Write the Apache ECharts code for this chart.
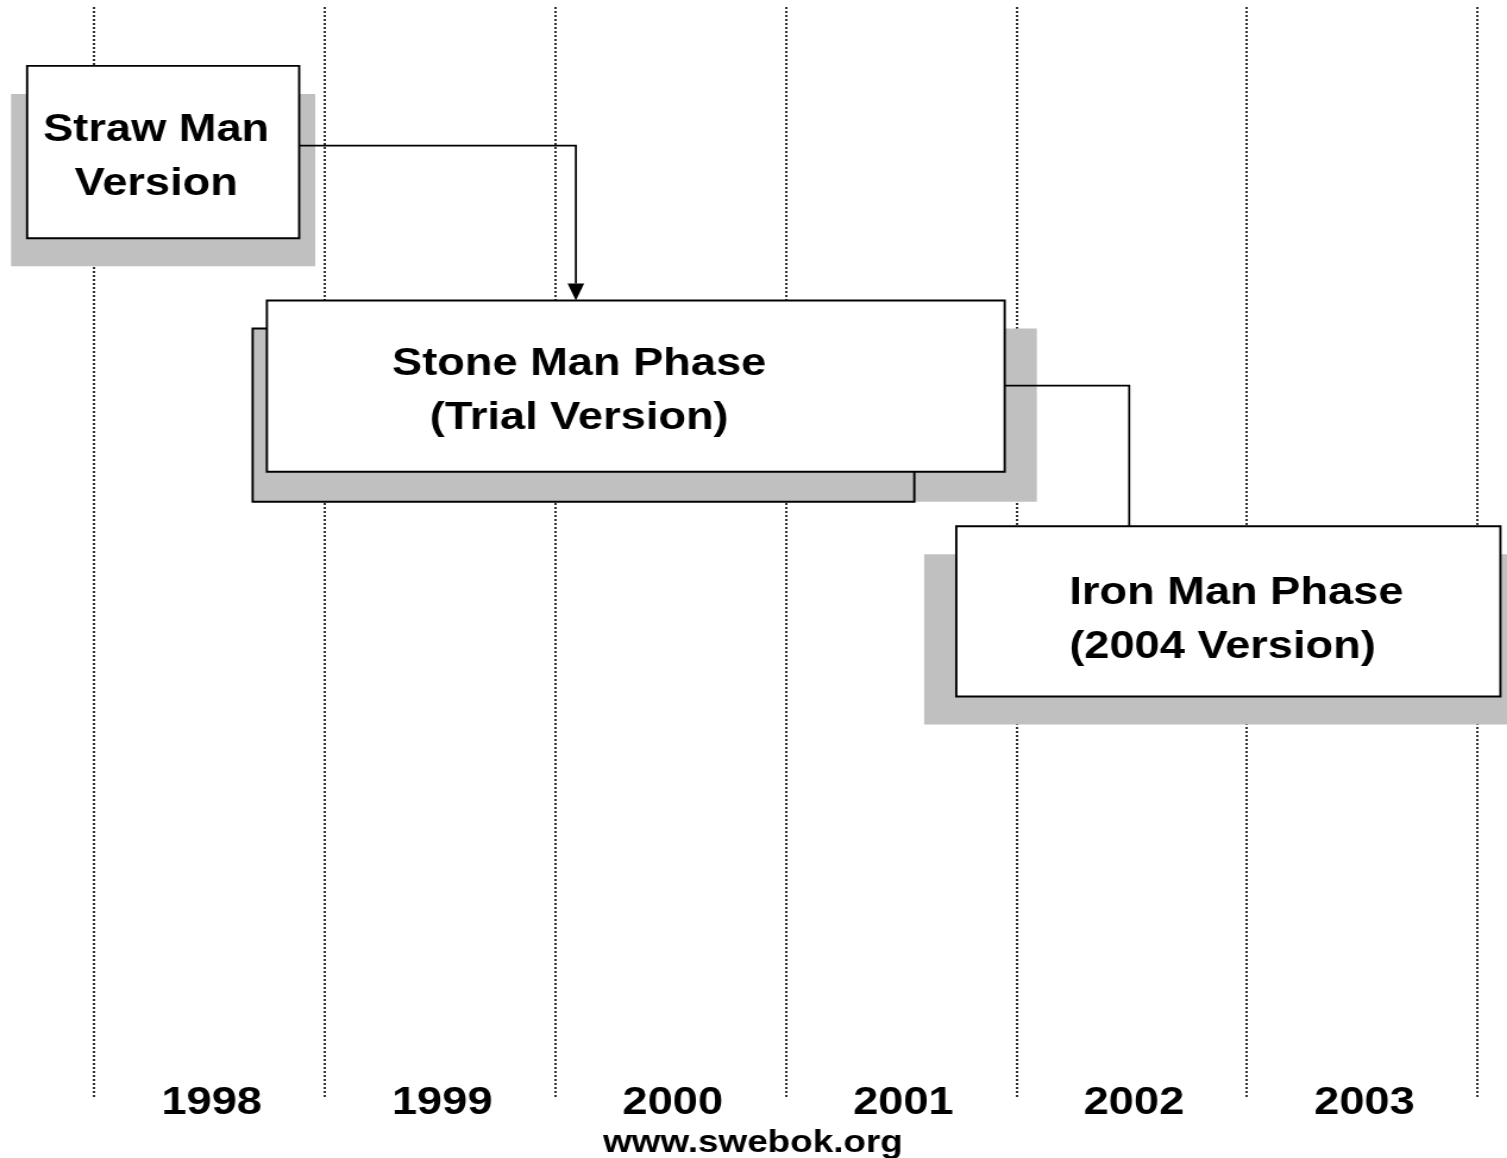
<!DOCTYPE html>
<html>
<head>
<meta charset="utf-8">
<title>SWEBOK timeline</title>
<script src="https://cdn.jsdelivr.net/npm/echarts@6/dist/echarts.min.js"></script>
<style>
  html, body { margin: 0; padding: 0; background: #fff; overflow: hidden; }
  /* the source picture is stretched ~1.19x sideways, so draw narrower and widen it */
  #timeline { width: 1267px; height: 1158px; transform: scaleX(1.1895); transform-origin: 0 0; }
</style>
</head>
<body>
<div id="timeline"></div>
<script>
var years = ['1998', '1999', '2000', '2001', '2002', '2003'];

// phases: start/end in years, top/bottom on a 0..100 scale (0 = top)
var phaseNames = ['Straw Man\nVersion', 'Stone Man Phase\n(Trial Version)', 'Iron Man Phase\n(2004 Version)'];
var phaseStart = [1997.71, 1998.75, 2001.74];
var phaseEnd = [1998.89, 2001.95, 2004.10];
var phaseTop = [5.4, 26.9, 47.6];
var phaseBottom = [21.2, 42.6, 63.2];

// elbow links between phases
var linkFrom = [0, 1];
var linkTo = [1, 2];
var linkX = [2000.09, 2002.49];
var linkY = [12.7, 34.7];
var linkArrow = [true, false];

var FONT = '"Liberation Sans", Arial, sans-serif';
var GRAY = '#c0c0c0';
// shadow pads [left, right, top, bottom] in px from the box edges
var shadowPad = [[-13.5, 13.5, 28, 28], [27, 27, 28, 30], [-27, 27, 28, 28]];
// outlined gray panel behind the stone man box
var panelPad = [null, [-12, -76, 28, 30], null];
// text anchor: [dx from box left, align, dy from box middle]
var textAnchor = [[108.5, 'center', 5], [262.5, 'center', 5], [95, 'left', 9]];

function renderPhase(params, api) {
  var i = params.dataIndex;
  var p0 = api.coord([api.value(0), api.value(2)]);
  var p1 = api.coord([api.value(1), api.value(3)]);
  var x = p0[0], y = p0[1], w = p1[0] - p0[0], h = p1[1] - p0[1];
  var s = shadowPad[i];
  var children = [{
    type: 'rect',
    shape: { x: x + s[0], y: y + s[2], width: w - s[0] + s[1], height: h - s[2] + s[3] },
    style: { fill: GRAY }
  }];
  var pp = panelPad[i];
  if (pp) {
    children.push({
      type: 'rect',
      shape: { x: x + pp[0], y: y + pp[2], width: w - pp[0] + pp[1], height: h - pp[2] + pp[3] },
      style: { fill: GRAY, stroke: '#000', lineWidth: 1.9 }
    });
  }
  children.push({
    type: 'rect',
    shape: { x: x, y: y, width: w, height: h },
    style: { fill: '#fff', stroke: '#000', lineWidth: 1.9 }
  });
  var ta = textAnchor[i];
  children.push({
    type: 'text',
    x: x + ta[0],
    y: y + h / 2 + ta[2],
    style: {
      text: phaseNames[i],
      fill: '#000',
      fontFamily: FONT,
      fontWeight: 'bold',
      fontSize: 38,
      lineHeight: 54,
      align: ta[1],
      verticalAlign: 'middle'
    }
  });
  return { type: 'group', children: children };
}

function renderLink(params, api) {
  var i = params.dataIndex;
  var a = linkFrom[i], b = linkTo[i];
  var start = api.coord([phaseEnd[a], linkY[i]]);
  var elbow = api.coord([api.value(0), api.value(1)]);
  var end = api.coord([api.value(0), phaseTop[b]]);
  var children = [];
  var tipLen = 17, half = 7;
  var lineEnd = linkArrow[i] ? [end[0], end[1] - tipLen] : end;
  children.push({
    type: 'polyline',
    shape: { points: [start, elbow, lineEnd] },
    style: { stroke: '#000', lineWidth: 1.7, fill: null }
  });
  if (linkArrow[i]) {
    children.push({
      type: 'polygon',
      shape: { points: [[end[0] - half, end[1] - tipLen], [end[0] + half, end[1] - tipLen], [end[0], end[1]]] },
      style: { fill: '#000' }
    });
  }
  return { type: 'group', children: children };
}

var chart = echarts.init(document.getElementById('timeline'));
chart.setOption({
  animation: false,
  backgroundColor: '#fff',
  title: {
    text: 'www.swebok.org',
    left: 628,
    top: 1123,
    textAlign: 'center',
    textStyle: { fontFamily: FONT, fontWeight: 'bold', fontSize: 31, color: '#000' }
  },
  grid: { left: 79, right: 25, top: 7, bottom: 60 },
  xAxis: [
    {
      type: 'value',
      min: 1998,
      max: 2004,
      interval: 1,
      axisLine: { show: false },
      axisTick: { show: false },
      axisLabel: { show: false },
      splitLine: { show: true, lineStyle: { color: '#000', width: 1.6, type: [2, 2] } }
    },
    {
      type: 'category',
      data: years,
      boundaryGap: true,
      position: 'bottom',
      axisLine: { show: false },
      axisTick: { show: false },
      splitLine: { show: false },
      axisLabel: {
        color: '#000',
        fontFamily: FONT,
        fontWeight: 'bold',
        fontSize: 38,
        margin: 6,
        padding: [0, 0, 0, 4],
        verticalAlign: 'middle'
      }
    }
  ],
  yAxis: { type: 'value', min: 0, max: 100, inverse: true, show: false },
  series: [
    {
      type: 'custom',
      renderItem: renderPhase,
      xAxisIndex: 0,
      encode: { x: [0, 1], y: [2, 3] },
      data: phaseStart.map(function (s, i) { return [s, phaseEnd[i], phaseTop[i], phaseBottom[i]]; }),
      z: 2
    },
    {
      type: 'custom',
      renderItem: renderLink,
      xAxisIndex: 0,
      encode: { x: 0, y: 1 },
      data: linkX.map(function (x, i) { return [x, linkY[i]]; }),
      z: 3
    }
  ]
});
</script>
</body>
</html>
